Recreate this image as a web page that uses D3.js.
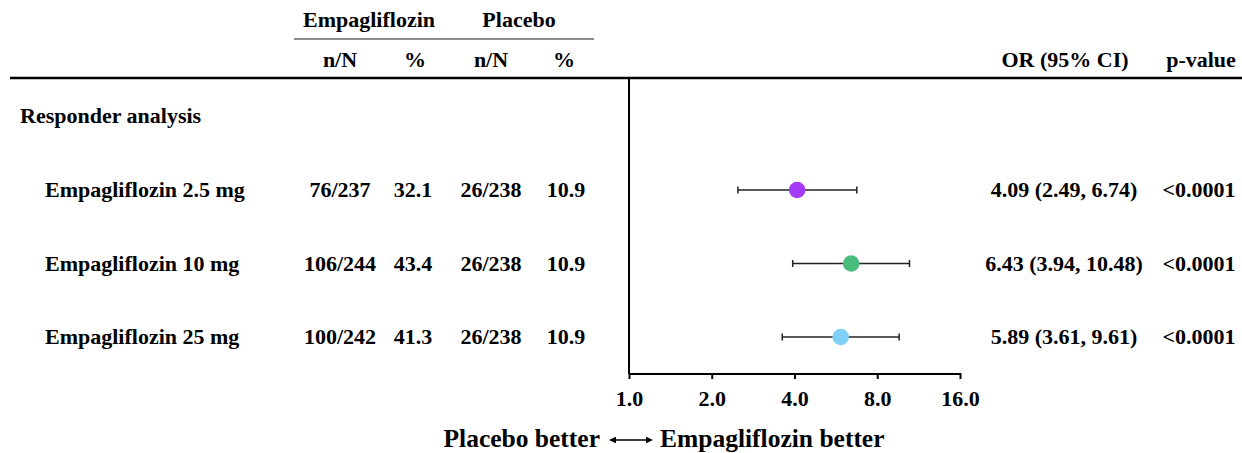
<!DOCTYPE html>
<html>
<head>
<meta charset="utf-8">
<script src="https://cdn.jsdelivr.net/npm/d3@7"></script>
<style>
  body { margin: 0; background: #fff; }
  text { font-family: "Liberation Serif", "Times New Roman", serif; font-weight: bold; fill: #000; }
</style>
</head>
<body>
<svg id="canvas" width="1242" height="453"></svg>
<script>
// data
const labels = ["Empagliflozin 2.5 mg", "Empagliflozin 10 mg", "Empagliflozin 25 mg"];
const empaN = ["76/237", "106/244", "100/242"];
const empaPct = ["32.1", "43.4", "41.3"];
const placN = ["26/238", "26/238", "26/238"];
const placPct = ["10.9", "10.9", "10.9"];
const orValues = [4.09, 6.43, 5.89];
const ciLow = [2.49, 3.94, 3.61];
const ciHigh = [6.74, 10.48, 9.61];
const pValues = ["<0.0001", "<0.0001", "<0.0001"];
const colors = ["#a43cf6", "#49bb7d", "#80cff6"];
const ticks = [1, 2, 4, 8, 16];

const svg = d3.select("svg#canvas");

const x = d3.scaleLog().base(2).domain([1, 16]).range([629, 960]);
const y = d3.scalePoint().domain(labels).range([190, 337]);
const axisY = 374;

// header lines
svg.append("line").attr("x1", 294).attr("x2", 594).attr("y1", 39).attr("y2", 39)
  .attr("stroke", "#666").attr("stroke-width", 1.5);
svg.append("line").attr("x1", 10).attr("x2", 1242).attr("y1", 78).attr("y2", 78)
  .attr("stroke", "#000").attr("stroke-width", 2.5);

const fs = 22;
const head = svg.append("g").style("font-size", fs + "px");
head.append("text").attr("x", 369).attr("y", 27).attr("text-anchor", "middle").text("Empagliflozin");
head.append("text").attr("x", 519).attr("y", 27).attr("text-anchor", "middle").text("Placebo");
[[340, "n/N"], [415, "%"], [491, "n/N"], [564, "%"]].forEach(([cx, t]) => {
  head.append("text").attr("x", cx).attr("y", 67).attr("text-anchor", "middle").text(t);
});
head.append("text").attr("x", 1065).attr("y", 67).attr("text-anchor", "middle").text("OR (95% CI)");
head.append("text").attr("x", 1201).attr("y", 67).attr("text-anchor", "middle").text("p-value");
head.append("text").attr("x", 20).attr("y", 123).text("Responder analysis");

// table rows
const rows = svg.append("g").style("font-size", fs + "px")
  .selectAll("g").data(labels).enter().append("g")
  .attr("transform", d => `translate(0,${y(d) + 7})`);
rows.append("text").attr("x", 45).text(d => d);
rows.append("text").attr("x", 340).attr("text-anchor", "middle").text((d, i) => empaN[i]);
rows.append("text").attr("x", 413).attr("text-anchor", "middle").text((d, i) => empaPct[i]);
rows.append("text").attr("x", 491).attr("text-anchor", "middle").text((d, i) => placN[i]);
rows.append("text").attr("x", 566).attr("text-anchor", "middle").text((d, i) => placPct[i]);
rows.append("text").attr("x", 1064).attr("text-anchor", "middle")
  .text((d, i) => `${orValues[i].toFixed(2)} (${ciLow[i].toFixed(2)}, ${ciHigh[i].toFixed(2)})`);
rows.append("text").attr("x", 1199).attr("text-anchor", "middle").text((d, i) => pValues[i]);

// reference line at 1
svg.append("line").attr("x1", x(1)).attr("x2", x(1)).attr("y1", 78).attr("y2", axisY)
  .attr("stroke", "#000").attr("stroke-width", 2);

// axis
const axis = svg.append("g").attr("transform", `translate(0,${axisY})`)
  .call(d3.axisBottom(x).tickValues(ticks).tickFormat(d3.format(".1f")).tickSize(5));
axis.select(".domain").attr("stroke-width", 2).attr("d", `M${x(1)},0H${x(16)}`);
axis.selectAll(".tick line").attr("stroke-width", 2).attr("y1", -1).attr("y2", 5);
axis.selectAll(".tick text").style("font-size", fs + "px")
  .style("font-family", "Liberation Serif").style("font-weight", "bold")
  .attr("dy", null).attr("y", 32);

// CIs and points
const marks = svg.append("g").selectAll("g").data(labels).enter().append("g");
marks.append("line").attr("x1", (d, i) => x(ciLow[i])).attr("x2", (d, i) => x(ciHigh[i]))
  .attr("y1", d => y(d)).attr("y2", d => y(d)).attr("stroke", "#222").attr("stroke-width", 1.3);
[ciLow, ciHigh].forEach(arr => {
  marks.append("line").attr("x1", (d, i) => x(arr[i])).attr("x2", (d, i) => x(arr[i]))
    .attr("y1", d => y(d) - 3.5).attr("y2", d => y(d) + 3.5).attr("stroke", "#222").attr("stroke-width", 1.5);
});
marks.append("circle").attr("cx", (d, i) => x(orValues[i])).attr("cy", d => y(d))
  .attr("r", 8.3).attr("fill", (d, i) => colors[i]);

// bottom label
const bl = svg.append("g").style("font-size", "25.5px");
bl.append("text").attr("x", 600).attr("y", 447).attr("text-anchor", "end").text("Placebo better");
bl.append("text").attr("x", 660).attr("y", 447).text("Empagliflozin better");
const ay = 440;
svg.append("line").attr("x1", 611).attr("x2", 651).attr("y1", ay).attr("y2", ay).attr("stroke", "#000").attr("stroke-width", 1.3);
svg.append("path").attr("d", `M609,${ay}l7,-3.2v6.4z`).attr("fill", "#000");
svg.append("path").attr("d", `M653,${ay}l-7,-3.2v6.4z`).attr("fill", "#000");
</script>
</body>
</html>
